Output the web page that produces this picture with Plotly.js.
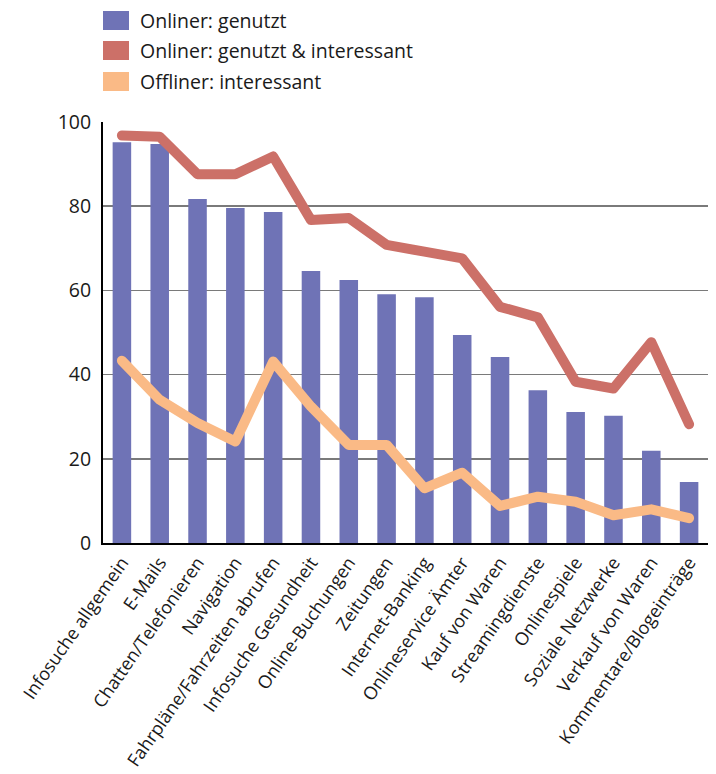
<!DOCTYPE html>
<html>
<head>
<meta charset="utf-8">
<script src="https://cdn.plot.ly/plotly-3.0.1.min.js"></script>
<style>
html,body{margin:0;padding:0;background:#fff;}
#chart{width:716px;height:774px;}
.js-line{stroke-linecap:round;stroke-linejoin:round;}
</style>
</head>
<body>
<div id="chart"></div>
<script>
const categories = ["Infosuche allgemein","E-Mails","Chatten/Telefonieren","Navigation","Fahrpläne/Fahrzeiten abrufen","Infosuche Gesundheit","Online-Buchungen","Zeitungen","Internet-Banking","Onlineservice Ämter","Kauf von Waren","Streamingdienste","Onlinespiele","Soziale Netzwerke","Verkauf von Waren","Kommentare/Blogeinträge"];
const onlinerGenutzt = [95.2,94.8,81.7,79.6,78.6,64.6,62.5,59.1,58.4,49.4,44.2,36.3,31.1,30.2,21.9,14.5];
const onlinerGenutztInteressant = [96.8,96.5,87.6,87.6,91.8,76.7,77.2,70.8,69.2,67.6,56.1,53.6,38.3,36.7,47.7,28.2];
const offlinerInteressant = [43.3,34.0,28.5,24.1,43.1,32.4,23.3,23.3,13.0,16.7,8.8,11.0,9.8,6.6,8.0,5.9];
const seriesNames = ["Onliner: genutzt","Onliner: genutzt & interessant","Offliner: interessant"];
const colors = ["#6f73b6","#cc7068","#faba86"];
const yTicks = [0,20,40,60,80,100];

const fontFam = "'Open Sans', 'Noto Sans', sans-serif";
const traces = [
  {type:"bar", x:categories, y:onlinerGenutzt, name:seriesNames[0], marker:{color:colors[0]}, showlegend:false, hoverinfo:"skip"},
  {type:"scatter", mode:"lines", x:categories, y:onlinerGenutztInteressant, name:seriesNames[1], line:{color:colors[1], width:10}, showlegend:false, hoverinfo:"skip"},
  {type:"scatter", mode:"lines", x:categories, y:offlinerInteressant, name:seriesNames[2], line:{color:colors[2], width:10}, showlegend:false, hoverinfo:"skip"}
];

const shapes = [];
const annotations = [];
const legTop = [11, 41, 72];
seriesNames.forEach((n,i)=>{
  shapes.push({type:"rect", xref:"paper", yref:"paper",
    x0:(103-103)/605, x1:(129-103)/605,
    y0:1+(122-(legTop[i]+19))/421, y1:1+(122-legTop[i])/421,
    fillcolor:colors[i], line:{width:0}});
  annotations.push({xref:"paper", yref:"paper", x:(138-103)/605, y:1+(122-(legTop[i]+9.5))/421,
    xanchor:"left", yanchor:"middle", text:n, showarrow:false,
    font:{family:fontFam, size:19.5, color:"#1a1a1a"}});
});

const layout = {
  width:716, height:774,
  margin:{l:103, r:8, t:122, b:231, pad:0},
  paper_bgcolor:"#fff", plot_bgcolor:"#fff",
  bargap:0.51,
  showlegend:false,
  font:{family:fontFam, size:18, color:"#1a1a1a"},
  xaxis:{type:"category", tickangle:-55, showgrid:false, showline:true, linecolor:"#000", linewidth:2,
    ticks:"", tickfont:{family:fontFam, size:18, color:"#1a1a1a"}, automargin:false},
  yaxis:{range:[0,100], tickvals:yTicks, ticktext:yTicks.map(String), showgrid:true, gridcolor:"#7a7a7a", gridwidth:1.5,
    showline:true, linecolor:"#000", linewidth:2, ticks:"", zeroline:false,
    tickfont:{family:fontFam, size:19.5, color:"#1a1a1a"}, automargin:false, ticklabelstandoff:6},
  shapes:shapes,
  annotations:annotations
};
Plotly.newPlot("chart", traces, layout, {staticPlot:true, displayModeBar:false});
</script>
</body>
</html>
